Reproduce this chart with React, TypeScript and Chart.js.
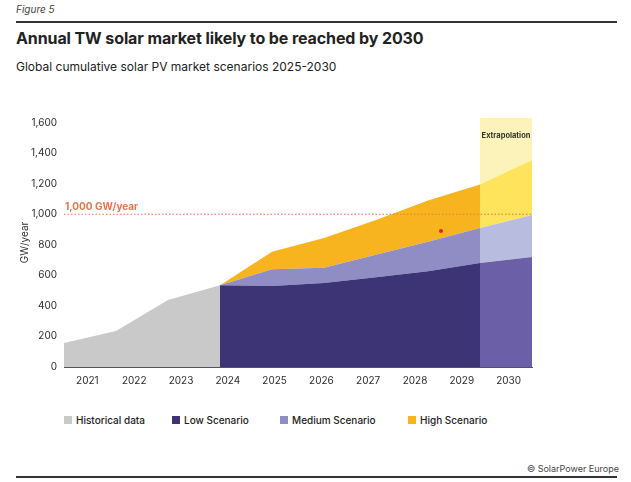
import React, { useEffect, useRef } from "react";
import { Chart, registerables } from "chart.js";

Chart.register(...registerables);

const years = ["2021", "2022", "2023", "2024", "2025", "2026", "2027", "2028", "2029", "2030"];
const historicalYears = ["2021", "2022", "2023", "2024"];
const historical = [157, 235, 438, 535];
const scenarioYears = ["2024", "2025", "2026", "2027", "2028", "2029", "2030"];
const lowScenario = [535, 530, 550, 588, 627, 680, 720];
const mediumScenario = [535, 640, 650, 735, 820, 910, 995];
const highScenario = [535, 755, 845, 963, 1090, 1195, 1355];
const extrapolationStart = "2029";
const extrapolationTop = 1630;
const thresholdValue = 1000;
const thresholdLabel = "1,000 GW/year";
const strayPoint = { year: 7.25, value: 890 };
const yTicks = [0, 200, 400, 600, 800, 1000, 1200, 1400, 1600];

const FONT = "Inter, 'Noto Sans', sans-serif";
const C = {
  grey: "#c9c9c9",
  low: "#3c3475",
  medium: "#908dc4",
  high: "#f8b41e",
  lowExt: "#6b60a8",
  medExt: "#b8bde0",
  highExt: "#fde45c",
  band: "#fcf3ba",
  threshold: "#e8744c",
  dot: "#e0251f",
  text: "#2b2b2b",
};

const idx = (y: string) => years.indexOf(y);
const pts = (ys: string[], vals: number[]) => ys.map((y, i) => ({ x: idx(y), y: vals[i] }));

export default function App() {
  const ref = useRef<HTMLCanvasElement | null>(null);
  useEffect(() => {
    if (!ref.current) return;
    const extIdx = scenarioYears.indexOf(extrapolationStart);
    const mainYears = scenarioYears.slice(0, extIdx + 1);
    const extYears = scenarioYears.slice(extIdx);
    const area = (label: string, data: any[], color: string, fill: any) => ({
      label,
      data,
      backgroundColor: color,
      borderColor: color,
      borderWidth: 0,
      pointRadius: 0,
      fill,
      tension: 0,
      xAxisID: "x",
      yAxisID: "y",
    });
    const textPlugin = {
      id: "texts",
      afterDatasetsDraw(chart: any) {
        const { ctx, scales } = chart;
        const xs = scales.x;
        const ys = scales.y;
        ctx.save();
        ctx.fillStyle = C.threshold;
        ctx.font = `bold 10px ${FONT}`;
        ctx.textAlign = "left";
        ctx.textBaseline = "middle";
        ctx.fillText(thresholdLabel, xs.getPixelForValue(0) + 1, ys.getPixelForValue(thresholdValue) - 7);
        ctx.fillStyle = "#333";
        ctx.font = `bold 7.5px ${FONT}`;
        ctx.textAlign = "center";
        const e = idx(extrapolationStart);
        ctx.fillText("Extrapolation", (xs.getPixelForValue(e) + xs.getPixelForValue(e + 1)) / 2, ys.getPixelForValue(extrapolationTop) + 18);
        ctx.restore();
      },
    };
    const chart = new Chart(ref.current, {
      type: "line",
      data: {
        labels: years,
        datasets: [
          {
            label: "threshold",
            data: [{ x: 0, y: thresholdValue }, { x: years.length - 1, y: thresholdValue }],
            borderColor: C.threshold,
            borderWidth: 1.2,
            borderDash: [1.5, 2],
            pointRadius: 0,
            fill: false,
            xAxisID: "x",
            yAxisID: "y",
          },
          {
            label: "dot",
            data: [{ x: strayPoint.year, y: strayPoint.value }],
            showLine: false,
            pointRadius: 2,
            pointBackgroundColor: C.dot,
            pointBorderWidth: 0,
            xAxisID: "x",
            yAxisID: "y",
          },
          area("Historical data", pts(historicalYears, historical), C.grey, "origin"),
          area("Low Scenario", pts(mainYears, lowScenario.slice(0, extIdx + 1)), C.low, "origin"),
          area("Medium Scenario", pts(mainYears, mediumScenario.slice(0, extIdx + 1)), C.medium, 3),
          area("High Scenario", pts(mainYears, highScenario.slice(0, extIdx + 1)), C.high, 4),
          area("lowExt", pts(extYears, lowScenario.slice(extIdx)), C.lowExt, "origin"),
          area("medExt", pts(extYears, mediumScenario.slice(extIdx)), C.medExt, 6),
          area("highExt", pts(extYears, highScenario.slice(extIdx)), C.highExt, 7),
          area("band", extYears.map((y) => ({ x: idx(y), y: extrapolationTop })), C.band, 8),
        ],
      },
      options: {
        animation: false,
        responsive: false,
        maintainAspectRatio: false,
        layout: { padding: { left: 19, right: 28, top: 18, bottom: 0 } },
        plugins: { legend: { display: false }, tooltip: { enabled: false } },
        scales: {
          x: { type: "linear", display: false, min: 0, max: years.length - 1 },
          xCat: {
            type: "category",
            labels: years,
            offset: true,
            position: "bottom",
            grid: { display: false, drawTicks: false },
            border: { display: true, color: "#555", width: 1 },
            ticks: { color: C.text, font: { family: FONT, size: 10 }, padding: 8, maxRotation: 0 },
            afterFit: (s: any) => { s.height = 33; },
          },
          y: {
            type: "linear",
            min: 0,
            max: extrapolationTop,
            afterBuildTicks: (s: any) => { s.ticks = yTicks.map((v) => ({ value: v })); },
            grid: { display: false, drawTicks: false },
            border: { display: false },
            ticks: {
              color: C.text,
              font: { family: FONT, size: 10 },
              padding: 7,
              callback: (v: any) => Number(v).toLocaleString("en-US"),
            },
            title: { display: true, text: "GW/year", color: C.text, font: { family: FONT, size: 10 }, padding: 0 },
            afterFit: (s: any) => { s.width = 45; },
          },
        },
      },
      plugins: [textPlugin],
    });
    return () => chart.destroy();
  }, []);

  const legend = [
    { label: "Historical data", color: C.grey, x: 64 },
    { label: "Low Scenario", color: C.low, x: 172 },
    { label: "Medium Scenario", color: C.medium, x: 280 },
    { label: "High Scenario", color: C.high, x: 408 },
  ];

  return (
    <div style={{ position: "absolute", left: 0, top: 0, width: 631, height: 482, background: "#fff", fontFamily: FONT, color: C.text, overflow: "hidden" }}>
      <div style={{ position: "absolute", left: 16, top: 3, fontSize: 10, fontStyle: "italic", color: "#444" }}>Figure 5</div>
      <div style={{ position: "absolute", left: 16, top: 21, width: 601, height: 1.5, background: "#333" }} />
      <div style={{ position: "absolute", left: 16, top: 28, fontSize: 16, fontWeight: 700, color: "#222", whiteSpace: "nowrap", letterSpacing: -0.1 }}>
        Annual TW solar market likely to be reached by 2030
      </div>
      <div style={{ position: "absolute", left: 16, top: 59, fontSize: 12, color: "#222", whiteSpace: "nowrap" }}>
        Global cumulative solar PV market scenarios 2025-2030
      </div>
      <canvas ref={ref} width={560} height={300} style={{ position: "absolute", left: 0, top: 100, width: 560, height: 300 }} />
      {legend.map((l) => (
        <div key={l.label} style={{ position: "absolute", left: l.x, top: 413, height: 14, display: "flex", alignItems: "center", whiteSpace: "nowrap" }}>
          <span style={{ width: 8, height: 8, background: l.color, display: "inline-block", marginRight: 4 }} />
          <span style={{ fontSize: 10, fontWeight: 500, color: "#222" }}>{l.label}</span>
        </div>
      ))}
      <div style={{ position: "absolute", right: 12, top: 463, fontSize: 9, color: "#444", whiteSpace: "nowrap" }}>© SolarPower Europe</div>
      <div style={{ position: "absolute", left: 16, top: 476, width: 601, height: 1.5, background: "#333" }} />
    </div>
  );
}
